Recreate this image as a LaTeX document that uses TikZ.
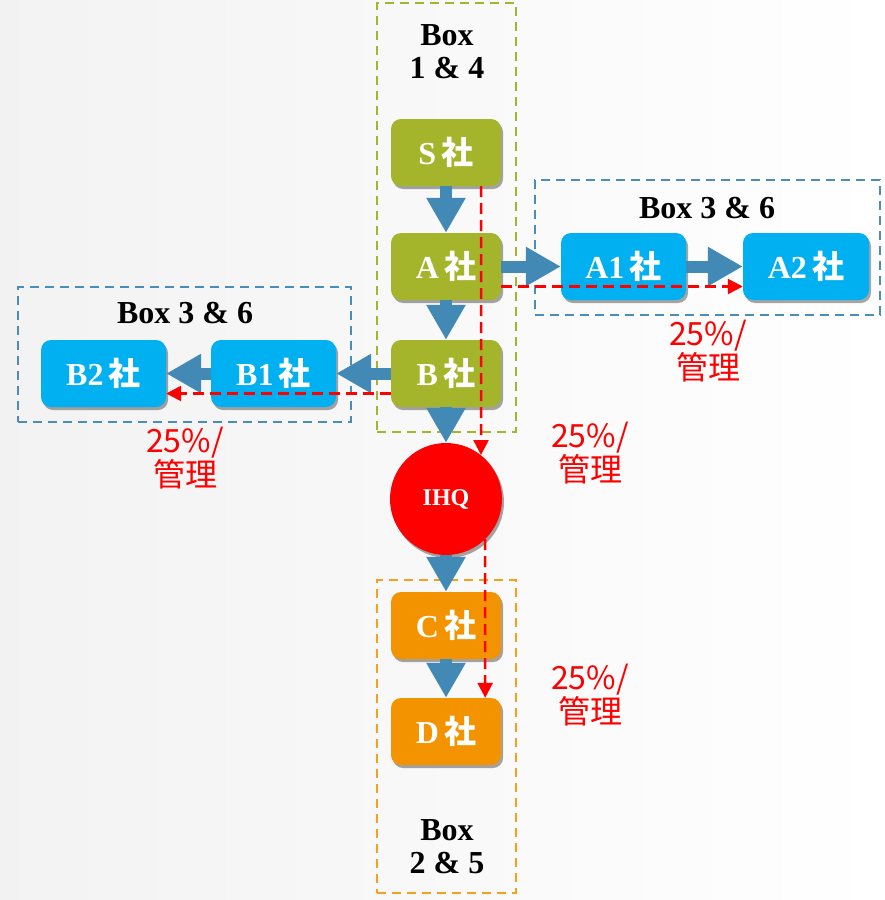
\documentclass[tikz,border=0pt]{standalone}
\usepackage{fontspec}
\setmainfont{Liberation Serif}
\newfontfamily\cjk{Noto Sans CJK JP}
\usetikzlibrary{arrows.meta,calc,shadows}
\definecolor{cgreen}{HTML}{A5B52B}
\definecolor{cblue}{HTML}{00B0F0}
\definecolor{corange}{HTML}{F49300}
\definecolor{carrow}{HTML}{4389B5}
\definecolor{cframeblue}{HTML}{4A8DBA}
\definecolor{cframeorange}{HTML}{F5A11B}
\tikzset{
  cobox/.style={rounded corners=10pt, minimum height=67pt, inner sep=0pt, text=white,
    font=\fontsize{32}{34}\selectfont\bfseries,
    drop shadow={shadow xshift=2pt, shadow yshift=-3pt, opacity=0.35, fill=black}},
  frame/.style={draw, line width=2.4pt, dash pattern=on 9pt off 6pt, inner sep=0pt},
  fat/.style={draw=carrow, line width=12pt, -{Triangle[width=37pt,length=35pt]}},
  reddash/.style={draw=red, line width=2.5pt, dash pattern=on 11pt off 6pt, -{Triangle[width=15pt,length=15pt]}},
  boxlabel/.style={font=\fontsize{32}{33}\selectfont\bfseries, align=center, inner sep=0pt},
  pct/.style={text=red, font=\cjk\fontsize{32}{34}\selectfont, align=center, inner sep=0pt}
}
\newcommand{\sha}[1]{\textbf{#1}\,{\cjk\bfseries 社}}
\begin{document}
\begin{tikzpicture}[x=1pt,y=-1pt]
\useasboundingbox (0,0) rectangle (885,900);
\shade[left color=black!5, right color=white] (0,0) rectangle (885,900);

% frames
\node[frame, draw=cgreen, minimum width=139pt, minimum height=429pt] (G) at (446.5,217.5) {};
\node[frame, draw=cframeorange, minimum width=139pt, minimum height=313pt] (O) at (446.5,736.5) {};
\node[frame, draw=cframeblue, minimum width=345pt, minimum height=135pt] (R) at (707.5,247.5) {};
\node[frame, draw=cframeblue, minimum width=333pt, minimum height=135pt] (L) at (184.5,354.5) {};

% frame labels
\node[boxlabel] (lg) at (447,52) {Box\\1 \& 4};
\node[boxlabel] (lo) at (447,847) {Box\\2 \& 5};
\node[boxlabel] (lr) at (707,208) {Box 3 \& 6};
\node[boxlabel] (ll) at (185,313) {Box 3 \& 6};

% company nodes
\node[cobox, fill=cgreen, minimum width=110pt] (S) at (446,152.5) {\sha{S}};
\node[cobox, fill=cgreen, minimum width=110pt] (A) at (446,266.5) {\sha{A}};
\node[cobox, fill=cgreen, minimum width=110pt] (B) at (446,373.5) {\sha{B}};
\node[circle, fill=red, minimum size=112pt, inner sep=0pt, text=white,
  font=\fontsize{24}{26}\selectfont\bfseries,
  drop shadow={shadow xshift=2pt, shadow yshift=-3pt, opacity=0.35, fill=black}] (IHQ) at (446,499) {IHQ};
\node[cobox, fill=corange, minimum width=110pt] (C) at (446,625.5) {\sha{C}};
\node[cobox, fill=corange, minimum width=110pt] (D) at (446,731.5) {\sha{D}};
\node[cobox, fill=cblue, minimum width=125pt] (A1) at (623.5,266.5) {\sha{A1}};
\node[cobox, fill=cblue, minimum width=126pt] (A2) at (806,266.5) {\sha{A2}};
\node[cobox, fill=cblue, minimum width=125pt] (B1) at (273.5,373.5) {\sha{B1}};
\node[cobox, fill=cblue, minimum width=125pt] (B2) at (103.5,373.5) {\sha{B2}};

% fat arrows
\draw[fat] (S) -- (A);
\draw[fat] (A) -- (B);
\draw[fat] (B) -- (IHQ);
\draw[fat] (IHQ) -- (C);
\draw[fat] (C) -- (D);
\draw[fat] (A) -- (A1);
\draw[fat] (A1) -- (A2);
\draw[fat] (B) -- (B1);
\draw[fat] (B1) -- (B2);

% red dashed flows
\draw[reddash] ($(S.south east)+(-20,0)$) -- ($(IHQ.center)+(35,-44)$);
\draw[reddash] ($(IHQ.center)+(39,40)$) -- ($(D.north east)+(-16,0)$);
\draw[reddash] ($(A.east)+(0,20)$) -- ($(A2.west)+(0,20)$);
\draw[reddash] ($(B.west)+(0,20)$) -- ($(B2.east)+(0,20)$);

% percentage labels
\node[pct] (p1) at (708,351) {25\%/\\管理};
\node[pct] (p2) at (185,458) {25\%/\\管理};
\node[pct] (p3) at (590,453) {25\%/\\管理};
\node[pct] (p4) at (590,695) {25\%/\\管理};
\end{tikzpicture}
\end{document}
